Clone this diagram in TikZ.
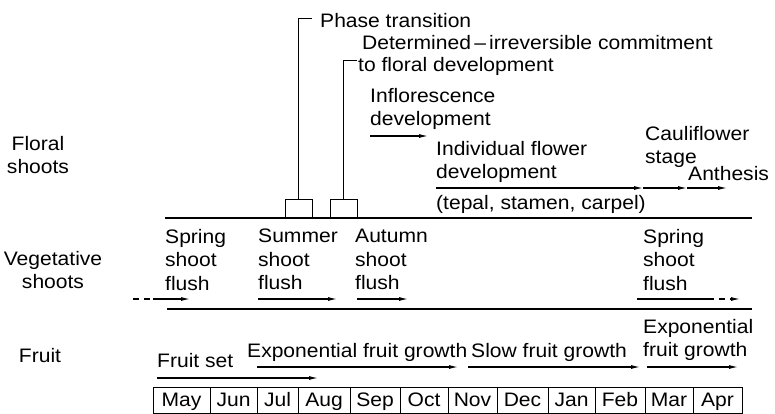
\documentclass[tikz,border=0pt]{standalone}
\usepackage{fontspec}
\setmainfont{Liberation Sans}[FakeStretch=1.08]
\usetikzlibrary{arrows.meta}
\usetikzlibrary{positioning}

\tikzset{
  lbl/.style={anchor=north west, inner sep=0pt, align=left, font=\fontsize{19.5}{23.5}\selectfont},
  txt/.style={anchor=base west, inner sep=0pt, font=\fontsize{19.5}{23.5}\selectfont},
  rowlbl/.style={inner sep=0pt, align=center, font=\fontsize{19.5}{23.5}\selectfont},
  period/.style={line width=1.1pt, -{Latex[length=9pt,width=4pt]}},
  axis/.style={line width=1.3pt},
  tickbox/.style={draw, line width=0.9pt, inner sep=0pt, minimum width=27pt, minimum height=18pt, anchor=south},
  monthcell/.style={draw, line width=0.9pt, inner sep=0pt, minimum height=26pt,
    text height=13pt, text depth=0pt, font=\fontsize{19.5}{23.5}\selectfont},
}

\begin{document}
\begin{tikzpicture}[x=1pt,y=-1pt]
\useasboundingbox (0,0) rectangle (775,413);

% row labels
\node[rowlbl] (floral) at (38,155) {Floral\\shoots};
\node[rowlbl] (veget) at (53,270) {Vegetative\\shoots};
\node[rowlbl] (fruit) at (40,356) {Fruit};

% base lines of the vegetative band
\coordinate (vegtopL) at (165,218);
\coordinate (vegtopR) at (752,218);
\coordinate (vegbotL) at (167,309);
\coordinate (vegbotR) at (752,309);
\draw[axis] (vegtopL) -- (vegtopR);
\draw[axis] (vegbotL) -- (vegbotR);

% phase transition and commitment
\node[tickbox] (phasebox) at (298.5,218) {};
\node[tickbox] (commitbox) at (343.5,218) {};
\node[txt] (phase) at (320,27) {Phase transition};
\node[txt] (determ) at (362,49) {Determined\,--\,irreversible commitment};
\node[txt] (floraldev) at (358,71) {to floral development};
\coordinate (phasetick) at (312,18);
\coordinate (committick) at (357,60);
\draw[line width=1pt] (phasebox.north) |- (phasetick);
\draw[line width=1pt] (commitbox.north) |- (committick);

% floral shoots
\node[lbl] (infl) at (370,88) {Inflorescence\\development};
\coordinate (inflA) at (370,136);
\coordinate (inflB) at (428,136);
\draw[period] (inflA) -- (inflB);

\node[lbl] (indiv) at (436,141) {Individual flower\\development};
\node[txt] (organs) at (436,209) {(tepal, stamen, carpel)};
\node[lbl] (cauli) at (645,126) {Cauliflower\\stage};
\node[txt] (anthesis) at (688,180) {Anthesis};
\coordinate (flowA) at (436,188);
\coordinate (flowB) at (643,188);
\coordinate (flowC) at (687,188);
\coordinate (flowD) at (727,188);
\draw[period] (flowA) -- (flowB);
\draw[period] (flowB) -- (flowC);
\draw[period] (flowC) -- (flowD);

% vegetative shoots
\node[lbl] (spring) at (165,229) {Spring\\shoot\\flush};
\node[lbl] (summer) at (258,229) {Summer\\shoot\\flush};
\node[lbl] (autumn) at (355,229) {Autumn\\shoot\\flush};
\node[lbl] (spring2) at (643,229) {Spring\\shoot\\flush};
\coordinate (sprA) at (133,299);
\coordinate (sprB) at (153,299);
\coordinate (sprC) at (190,299);
\draw[line width=1.1pt, dash pattern=on 6pt off 5pt] (sprA) -- (sprB);
\draw[period] (sprB) -- (sprC);
\coordinate (sumA) at (258,299);
\coordinate (sumB) at (337,299);
\draw[period] (sumA) -- (sumB);
\coordinate (autA) at (357,299);
\coordinate (autB) at (408,299);
\draw[period] (autA) -- (autB);
\coordinate (spr2A) at (637,299);
\coordinate (spr2B) at (708,299);
\coordinate (spr2C) at (740,299);
\draw[line width=1.1pt] (spr2A) -- (spr2B);
\draw[period, dash pattern=on 6pt off 5pt] (spr2B) -- (spr2C);

% fruit
\node[txt] (fruitset) at (157,367) {Fruit set};
\node[txt] (expgrowth) at (247,357) {Exponential fruit growth};
\node[txt] (slowgrowth) at (471,357) {Slow fruit growth};
\node[lbl] (expgrowth2) at (643,319) {Exponential\\fruit growth};
\coordinate (setA) at (157,378);
\coordinate (setB) at (318,378);
\draw[period] (setA) -- (setB);
\coordinate (expA) at (257,367);
\coordinate (expB) at (458,367);
\draw[period] (expA) -- (expB);
\coordinate (slowA) at (468,367);
\coordinate (slowB) at (640,367);
\draw[period] (slowA) -- (slowB);
\coordinate (exp2A) at (647,367);
\coordinate (exp2B) at (738,367);
\draw[period] (exp2A) -- (exp2B);

% months
\foreach \a/\b/\m in {153/210/May, 210/257/Jun, 257/298/Jul, 298/350/Aug,
  350/400/Sep, 400/448/Oct, 448/497/Nov, 497/548/Dec, 548/595/Jan,
  595/645/Feb, 645/693/Mar, 693/742/Apr}
  \node[monthcell, minimum width={(\b-\a)*1pt}] (\m) at ({(\a+\b)/2},400) {\m};

\end{tikzpicture}
\end{document}
